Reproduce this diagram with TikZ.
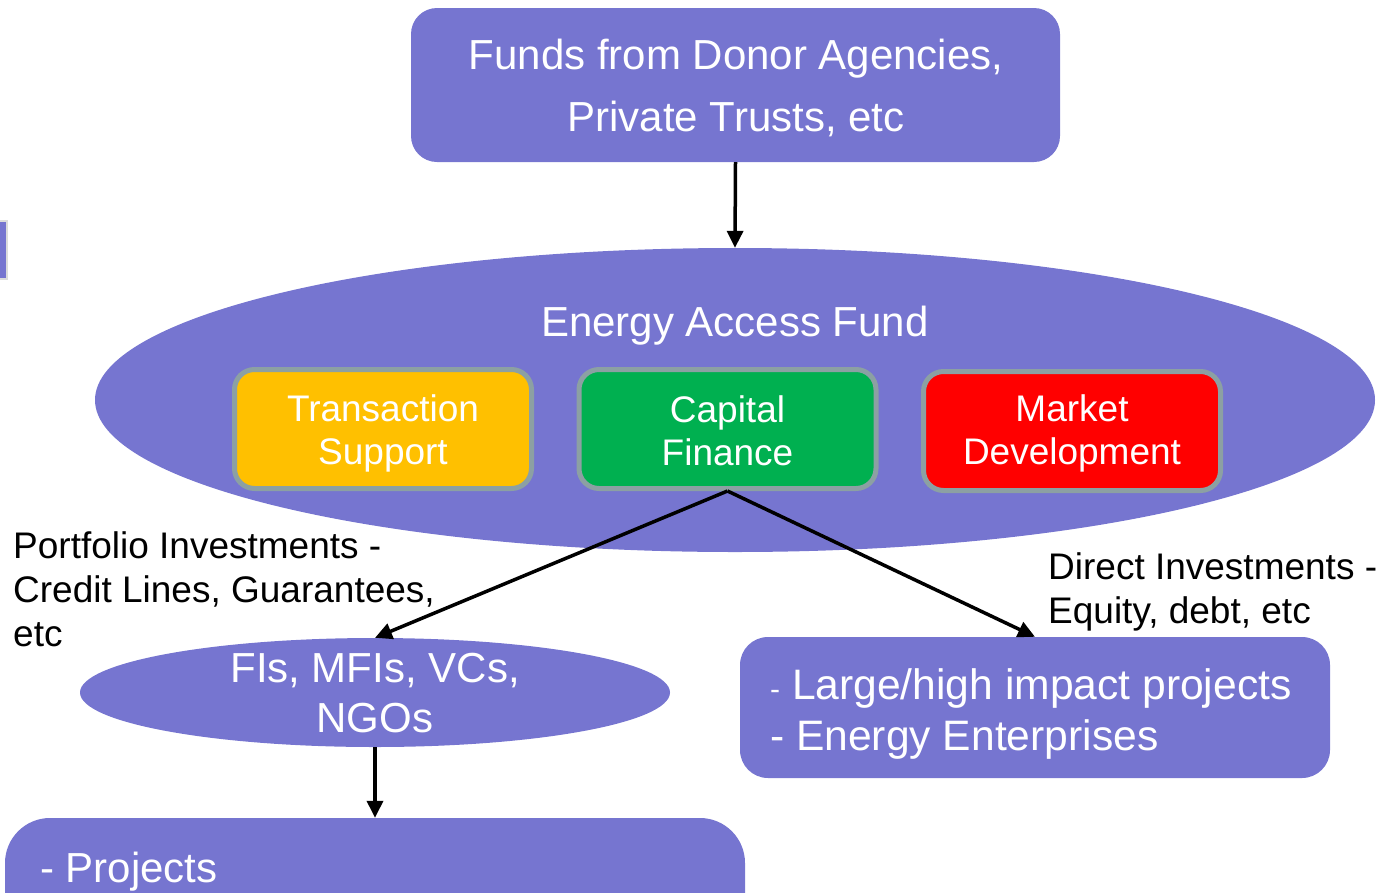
\documentclass[tikz,border=0pt]{standalone}
\usepackage{fontspec}
\setmainfont{Liberation Sans}
\usetikzlibrary{arrows.meta,shapes.geometric}
\definecolor{purp}{RGB}{118,117,208}
\definecolor{bord}{RGB}{140,160,163}
\definecolor{tsyel}{RGB}{255,192,0}
\definecolor{cfgreen}{RGB}{0,176,80}
\definecolor{mdred}{RGB}{255,0,0}
\definecolor{fragborder}{RGB}{220,220,220}
\begin{document}
\begin{tikzpicture}[x=1pt,y=-1pt,
  pbox/.style={fill=purp, rounded corners=#1, inner sep=0pt, text=white},
  subbox/.style={draw=bord, line width=5pt, rounded corners=20pt, minimum width=297pt,
    minimum height=119pt, inner sep=0pt},
  subtxt/.style={text=white, inner sep=0pt, align=center, font=\fontsize{37}{43}\selectfont},
  arr/.style={line width=3.5pt, -{Triangle[length=17pt,width=16pt]}},
  lbl/.style={anchor=west, align=left, inner sep=0pt, font=\fontsize{37}{44}\selectfont},
  wtxt/.style={text=white, inner sep=0pt, align=center, font=\fontsize{42}{50}\selectfont}
]
\useasboundingbox (0,0) rectangle (1392,892);
\clip (0,0) rectangle (1392,892);

% left fragment
\node[fill=purp, draw=fragborder, line width=2pt, minimum width=20pt, minimum height=58pt, inner sep=0pt] (frag) at (-3,250) {};

% top box
\node[pbox=26pt, minimum width=649pt, minimum height=154pt] (donor) at (735.5,85) {};
\node[wtxt, font=\fontsize{42}{62}\selectfont] (donortext) at (736,88) {Funds from Donor Agencies,\\Private Trusts, etc};

% big ellipse
\node[ellipse, fill=purp, minimum width=1280pt, minimum height=304pt, inner sep=0pt] (eaf) at (735,400) {};
\node[wtxt] (eaftitle) at (735,326) {Energy Access Fund};

% sub boxes
\node[subbox, fill=tsyel] (ts) at (383,429) {};
\node[subtxt] (tstext) at (383,433) {Transaction\\Support};
\node[subbox, fill=cfgreen] (cf) at (727.5,429) {};
\node[subtxt] (cftext) at (727.5,431) {Capital\\Finance};
\node[subbox, fill=mdred] (md) at (1072,431) {};
\node[subtxt] (mdtext) at (1072,433) {Market\\Development};

% FIs ellipse
\node[ellipse, fill=purp, minimum width=590pt, minimum height=109pt, inner sep=0pt] (fis) at (375,692.5) {};
\node[wtxt] (fistext) at (375,693) {FIs, MFIs, VCs,\\NGOs};

% right box
\node[pbox=28pt, minimum width=590pt, minimum height=141pt] (rb) at (1035,707.5) {};
\node[wtxt, anchor=west, align=left, font=\fontsize{42.6}{51}\selectfont] (rbtext) at (770,714)
  {{\fontsize{30}{51}\selectfont-} Large/high impact projects\\- Energy Enterprises};

% bottom box
\node[pbox=45pt, minimum width=740pt, minimum height=160pt] (bb) at (375,898) {};
\node[wtxt, anchor=west] (proj) at (40,872) {- Projects};

% labels
\node[lbl] (pilabel) at (13,589) {Portfolio Investments -\\Credit Lines, Guarantees,\\etc};
\node[lbl] (dilabel) at (1048,592) {Direct Investments -\\Equity, debt, etc};

% connectors
\draw[arr] (donor.south) -- (eaf.north);
\draw[arr] (cf.south) -- (fis.north);
\draw[arr] (cf.south) -- (rb.north);
\draw[arr] (fis.south) -- (bb.north);
\end{tikzpicture}
\end{document}
